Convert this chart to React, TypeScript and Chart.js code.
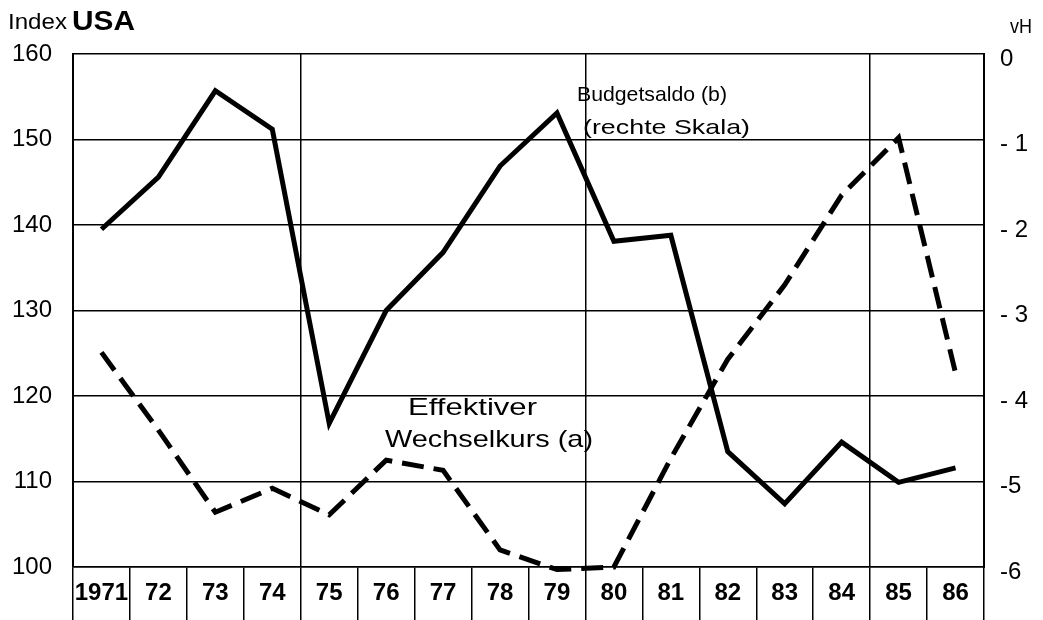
import React, { useEffect, useRef } from "react";
import { Chart, registerables } from "chart.js";

Chart.register(...registerables);

// ---- Data ----
const years = ["1971", "72", "73", "74", "75", "76", "77", "78", "79", "80", "81", "82", "83", "84", "85", "86"];
// Effektiver Wechselkurs (a), Index (left scale)
const wechselkurs = [125.1, 116.0, 106.4, 109.2, 106.1, 112.5, 111.3, 102.0, 99.7, 100.0, 112.7, 124.3, 133.0, 143.5, 150.2, 122.7];
// Budgetsaldo (b), vH (right scale)
const budgetsaldo = [-2.05, -1.44, -0.43, -0.88, -4.32, -3.0, -2.32, -1.31, -0.69, -2.19, -2.12, -4.65, -5.26, -4.54, -5.01, -4.84];
const leftTickValues = [100, 110, 120, 130, 140, 150, 160];
const rightTickValues = [0, -1, -2, -3, -4, -5, -6];
const rightTickLabels = ["0", "- 1", "- 2", "- 3", "- 4", "-5", "-6"];
// category indices whose left boundary carries a vertical grid line in the plot
const verticalGridIndices = [4, 9, 14];

const FONT = "'Liberation Sans', Arial, sans-serif";

function fitText(
  ctx: CanvasRenderingContext2D,
  text: string,
  left: number,
  cy: number,
  size: number,
  weight: string,
  width: number
) {
  ctx.save();
  ctx.font = `${weight} ${size}px ${FONT}`;
  const w = ctx.measureText(text).width;
  ctx.translate(left, cy);
  ctx.scale(width / w, 1);
  ctx.textAlign = "left";
  ctx.textBaseline = "middle";
  ctx.fillStyle = "#000";
  ctx.fillText(text, 0, 0);
  ctx.restore();
}

const annotationPlugin = {
  id: "annotations",
  afterDraw(chart: any) {
    const ctx = chart.ctx as CanvasRenderingContext2D;
    fitText(ctx, "Index", 8, 23, 22, "normal", 59);
    fitText(ctx, "USA", 72, 22, 28, "bold", 63);
    fitText(ctx, "vH", 1010, 27, 20, "normal", 22);
    fitText(ctx, "Budgetsaldo (b)", 577, 95, 21, "normal", 150);
    fitText(ctx, "(rechte Skala)", 583, 128, 21, "normal", 167);
    fitText(ctx, "Effektiver", 408, 408, 24, "normal", 129);
    fitText(ctx, "Wechselkurs (a)", 385, 440, 24, "normal", 208);
  },
};

export default function App() {
  const canvasRef = useRef<HTMLCanvasElement | null>(null);

  useEffect(() => {
    const canvas = canvasRef.current;
    if (!canvas) return;
    const chart = new Chart(canvas, {
      type: "line",
      data: {
        labels: years,
        datasets: [
          {
            label: "Budgetsaldo (b)",
            data: budgetsaldo,
            yAxisID: "yR",
            borderColor: "#000",
            borderWidth: 5,
            pointRadius: 0,
            tension: 0,
            fill: false,
            clip: false as any,
          },
          {
            label: "Effektiver Wechselkurs (a)",
            data: wechselkurs,
            yAxisID: "yL",
            borderColor: "#000",
            borderWidth: 5,
            borderDash: [22, 10],
            pointRadius: 0,
            tension: 0,
            fill: false,
            clip: false as any,
          },
        ],
      },
      options: {
        responsive: false,
        animation: false,
        events: [],
        layout: { padding: { top: 54, left: 0, right: 0, bottom: 0 } },
        plugins: {
          legend: { display: false },
          title: { display: false },
          tooltip: { enabled: false },
        },
        scales: {
          x: {
            type: "category",
            offset: true,
            border: { display: true, color: "#000", width: 1.5 },
            grid: {
              offset: true,
              drawOnChartArea: true,
              color: (c: any) => (verticalGridIndices.includes(c.index) ? "#000" : "rgba(0,0,0,0)"),
              lineWidth: 1.5,
              tickColor: "#000",
              tickWidth: 1.5,
              tickLength: 53,
            },
            ticks: {
              color: "#000",
              font: { family: FONT, size: 24, weight: "bold" },
              padding: -41,
              maxRotation: 0,
              autoSkip: false,
            },
            afterFit: (s: any) => {
              s.height = 53;
            },
          },
          yL: {
            type: "linear",
            position: "left",
            min: 100,
            max: 160,
            afterBuildTicks: (s: any) => {
              s.ticks = leftTickValues.map((v) => ({ value: v }));
            },
            border: { display: true, color: "#000", width: 2 },
            grid: { color: "#000", lineWidth: 1.5, drawTicks: false },
            ticks: {
              color: "#000",
              font: { family: FONT, size: 24 },
              padding: 21,
            },
            afterFit: (s: any) => {
              s.width = 73;
            },
          },
          yR: {
            type: "linear",
            position: "right",
            min: -6,
            max: 0,
            afterBuildTicks: (s: any) => {
              s.ticks = rightTickValues.map((v) => ({ value: v }));
            },
            border: { display: true, color: "#000", width: 2 },
            grid: { drawOnChartArea: false, drawTicks: false },
            ticks: {
              color: "#000",
              font: { family: FONT, size: 24 },
              padding: 16,
              labelOffset: 5,
              callback: (v: any) => {
                const i = rightTickValues.indexOf(Number(v));
                return i >= 0 ? rightTickLabels[i] : "";
              },
            },
            afterFit: (s: any) => {
              s.width = 59;
            },
          },
        },
      },
      plugins: [annotationPlugin],
    });
    return () => chart.destroy();
  }, []);

  return (
    <div style={{ position: "absolute", left: 0, top: 0, width: 1043, height: 620, background: "#fff" }}>
      <canvas ref={canvasRef} width={1043} height={620} style={{ display: "block" }} />
    </div>
  );
}
